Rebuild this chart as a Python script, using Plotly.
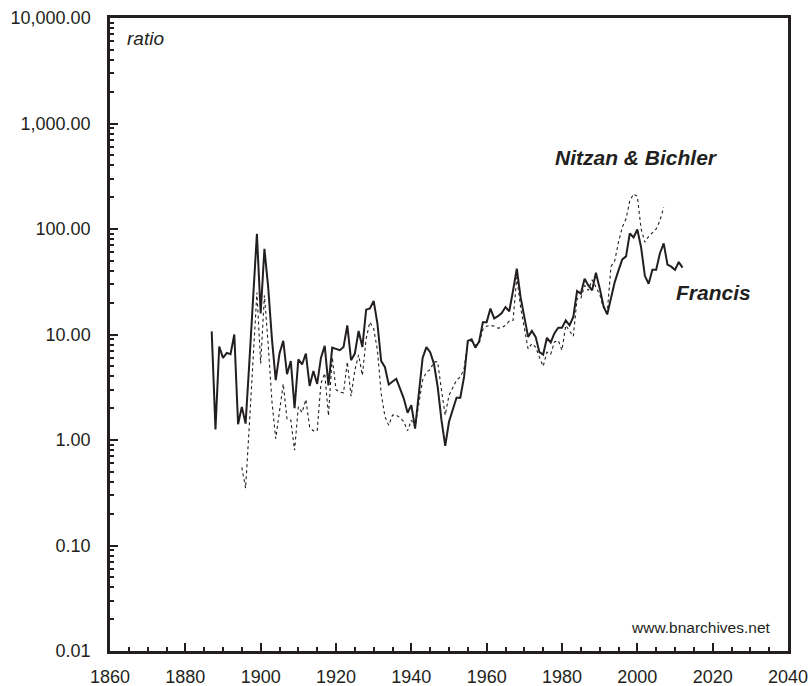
import plotly.graph_objects as go

# Francis series (solid), 1887-2012
francis_years = list(range(1887, 2013))
francis_values = [
    10.7, 1.26, 7.7, 6.0, 6.7, 6.5, 10.0, 1.41, 2.06, 1.43,      # 1887-1896
    5.5, 22, 90, 15.8, 65, 28, 9, 3.7, 6.6, 8.7,                 # 1897-1906
    4.2, 5.6, 2.0, 5.8, 5.2, 6.6, 3.25, 4.5, 3.4, 6.0,           # 1907-1916
    7.8, 3.3, 7.5, 7.3, 7.1, 7.6, 12.2, 5.7, 6.6, 10.8,          # 1917-1926
    7.6, 17.2, 17.7, 20.8, 12.7, 5.6, 4.9, 3.35, 3.6, 3.8,       # 1927-1936
    3.07, 2.47, 1.81, 2.14, 1.28, 2.8, 6.0, 7.6, 6.8, 5.3,       # 1937-1946
    3.18, 1.54, 0.88, 1.49, 1.91, 2.52, 2.52, 3.96, 8.7, 9.0,    # 1947-1956
    7.5, 8.6, 13.1, 13.1, 17.6, 14.2, 14.9, 16, 18.2, 16.6,      # 1957-1966
    26, 42, 22.6, 14.2, 9.5, 10.8, 9.5, 6.8, 6.45, 9.3,          # 1967-1976
    8.4, 10.3, 11.6, 11.6, 13.6, 12.2, 14.7, 25.8, 24.4, 33.8,   # 1977-1986
    29.2, 26.2, 38.5, 27.5, 18.7, 15.5, 22.6, 31.4, 40.5, 51.5,  # 1987-1996
    55, 91, 83, 99, 67, 36, 30.3, 41, 41, 59,                    # 1997-2006
    73, 46, 44, 41, 48.6, 43,                                    # 2007-2012
]

# Nitzan & Bichler series (dashed), 1895-2007
nb_years = list(range(1895, 2008))
nb_values = [
    0.55, 0.35, 1.4, 6, 25, 5.3, 23.5, 8, 2.3, 1.03,             # 1895-1904
    1.78, 3.4, 1.57, 1.54, 0.80, 2.06, 1.82, 2.42, 1.33, 1.22,   # 1905-1914
    1.22, 3.43, 4.3, 1.7, 6.1, 3.0, 2.85, 2.8, 5.5, 2.6,         # 1915-1924
    4.6, 6.4, 4.1, 9.1, 13.1, 11.4, 7.1, 2.75, 1.66, 1.38,       # 1925-1934
    1.72, 1.72, 1.63, 1.49, 1.22, 1.54, 1.33, 2.3, 3.7, 4.4,     # 1935-1944
    4.65, 5.5, 5.5, 2.96, 1.72, 2.65, 3.18, 3.7, 3.96, 4.75,     # 1945-1954
    8.5, 8.7, 7.9, 8.2, 11.2, 12, 12.2, 12, 11.5, 11.6,          # 1955-1964
    12.2, 13.4, 13.6, 35, 18.2, 11.1, 7.3, 8.2, 7.6, 6.1,        # 1965-1974
    5.0, 6.8, 6.5, 8.5, 8.8, 7.1, 12.2, 10.8, 9.6, 21.9,         # 1975-1984
    21.9, 29.2, 26.2, 33, 28, 24, 18, 16, 44, 50,                # 1985-1994
    75, 104, 125, 185, 215, 204, 100, 75, 85, 92,                # 1995-2004
    100, 120, 161,                                               # 2005-2007
]

y_tickvals = [0.01, 0.1, 1, 10, 100, 1000, 10000]
y_ticktext = ["0.01", "0.10", "1.00", "10.00", "100.00", "1,000.00", "10,000.00"]
x_tickvals = [1860, 1880, 1900, 1920, 1940, 1960, 1980, 2000, 2020, 2040]

INK = "#231f20"
FONT = "Liberation Sans, Arial, sans-serif"

fig = go.Figure()
fig.add_trace(go.Scatter(
    x=nb_years, y=nb_values, mode="lines", name="Nitzan & Bichler",
    line=dict(color=INK, width=1.1, dash="3px,3px"),
))
fig.add_trace(go.Scatter(
    x=francis_years, y=francis_values, mode="lines", name="Francis",
    line=dict(color=INK, width=2),
))

fig.update_layout(
    width=811, height=686,
    margin=dict(l=110, r=23, t=17.5, b=35),
    paper_bgcolor="white", plot_bgcolor="white",
    showlegend=False,
    font=dict(family=FONT, color=INK, size=18),
    xaxis=dict(
        range=[1860, 2040], tickmode="array", tickvals=x_tickvals,
        showgrid=False, zeroline=False, automargin=False,
        showline=True, linecolor=INK, linewidth=2.5, mirror=True,
        ticks="inside", ticklen=8, tickwidth=1.5, tickcolor=INK,
        minor=dict(dtick=5, ticks="inside", ticklen=4, tickwidth=1.5, tickcolor=INK, showgrid=False),
        tickfont=dict(size=18, family=FONT, color=INK),
        ticklabelstandoff=8, ticklabeloverflow="allow",
    ),
    yaxis=dict(
        type="log", range=[-2, 4], tickmode="array",
        tickvals=y_tickvals, ticktext=y_ticktext,
        showgrid=False, zeroline=False, automargin=False,
        showline=True, linecolor=INK, linewidth=2.5, mirror=True,
        ticks="inside", ticklen=8, tickwidth=1.5, tickcolor=INK,
        minor=dict(dtick="D1", ticks="inside", ticklen=4, tickwidth=1.5, tickcolor=INK, showgrid=False),
        tickfont=dict(size=18, family=FONT, color=INK),
        ticklabelstandoff=13, ticklabeloverflow="allow",
    ),
)

fig.add_annotation(text="<i>ratio</i>", xref="paper", yref="paper", x=0.022, y=0.968,
                   xanchor="left", yanchor="middle", showarrow=False,
                   font=dict(size=19, family=FONT, color=INK))
fig.add_annotation(text="<b><i>Nitzan &amp; Bichler</i></b>", xref="paper", yref="paper",
                   x=0.777, y=0.78, xanchor="center", yanchor="middle", showarrow=False,
                   font=dict(size=21, family=FONT, color=INK))
fig.add_annotation(text="<b><i>Francis</i></b>", xref="paper", yref="paper",
                   x=0.890, y=0.567, xanchor="center", yanchor="middle", showarrow=False,
                   font=dict(size=21, family=FONT, color=INK))
fig.add_annotation(text="www.bnarchives.net", xref="paper", yref="paper",
                   x=0.978, y=0.037, xanchor="right", yanchor="middle", showarrow=False,
                   font=dict(size=15.5, family=FONT, color=INK))

fig.write_html("out.html", config={"displayModeBar": False},
               post_script="document.body.style.margin='0';document.body.style.overflow='hidden';")
